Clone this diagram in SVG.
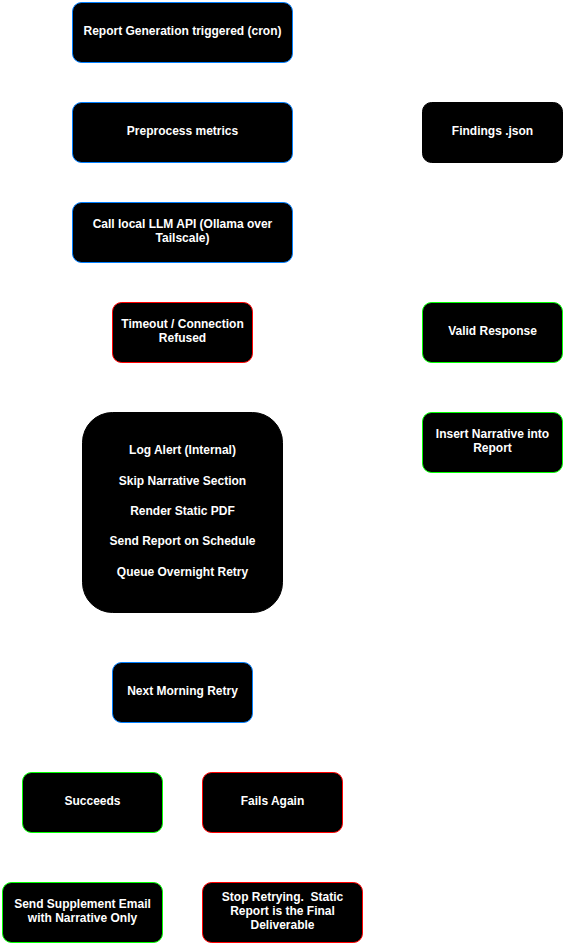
<svg xmlns="http://www.w3.org/2000/svg" width="566" height="952" viewBox="0 0 566 952">
<style>
.n{fill:#000000;stroke-width:1}
.b{stroke:#007FFF}
.r{stroke:#FF0000}
.g{stroke:#00FF00}
.k{stroke:#000000}
.t{fill:#FFFFFF;font-family:"Liberation Sans",Arial,sans-serif;font-size:12px;font-weight:bold;text-anchor:middle}
.c{fill:none;stroke:#FFFFFF;stroke-width:1}
</style>
<rect width="566" height="952" fill="#FFFFFF"/>
<g id="connectors">
<path class="c" d="M182.5 62.5V102.5"/>
<path class="c" d="M182.5 162.5V202.5"/>
<path class="c" d="M292.5 132.5H422.5"/>
<path class="c" d="M182.5 262.5V302.5"/>
<path class="c" d="M292.5 232.5H492.5V302.5"/>
<path class="c" d="M182.5 362.5V412.5"/>
<path class="c" d="M492.5 362.5V412.5"/>
<path class="c" d="M182.5 612.5V662.5"/>
<path class="c" d="M132.5 722.5V772.5"/>
<path class="c" d="M232.5 722.5V772.5"/>
<path class="c" d="M92.5 832.5V882.5"/>
<path class="c" d="M282.5 832.5V882.5"/>
</g>
<g id="report-generation">
<rect class="n b" x="72.5" y="2.5" width="220" height="60" rx="9"/>
<text class="t" x="182.5" y="35">Report Generation triggered (cron)</text>
</g>
<g id="preprocess">
<rect class="n b" x="72.5" y="102.5" width="220" height="60" rx="9"/>
<text class="t" x="182.5" y="135">Preprocess metrics</text>
</g>
<g id="findings">
<rect class="n k" x="422.5" y="102.5" width="140" height="60" rx="9"/>
<text class="t" x="492.5" y="135">Findings .json</text>
</g>
<g id="call-llm">
<rect class="n b" x="72.5" y="202.5" width="220" height="60" rx="9"/>
<text class="t" x="182.5" y="228">Call local LLM API (Ollama over</text>
<text class="t" x="182.5" y="242">Tailscale)</text>
</g>
<g id="timeout">
<rect class="n r" x="112.5" y="302.5" width="140" height="60" rx="9"/>
<text class="t" x="182.5" y="328">Timeout / Connection</text>
<text class="t" x="182.5" y="342">Refused</text>
</g>
<g id="valid-response">
<rect class="n g" x="422.5" y="302.5" width="140" height="60" rx="9"/>
<text class="t" x="492.5" y="335">Valid Response</text>
</g>
<g id="insert-narrative">
<rect class="n g" x="422.5" y="412.5" width="140" height="60" rx="9"/>
<text class="t" x="492.5" y="438">Insert Narrative into</text>
<text class="t" x="492.5" y="452">Report</text>
</g>
<g id="fallback-steps">
<rect class="n k" x="82.5" y="412.5" width="200" height="200" rx="30"/>
<text class="t" x="182.5" y="454">Log Alert (Internal)</text>
<text class="t" x="182.5" y="485">Skip Narrative Section</text>
<text class="t" x="182.5" y="515">Render Static PDF</text>
<text class="t" x="182.5" y="545">Send Report on Schedule</text>
<text class="t" x="182.5" y="576">Queue Overnight Retry</text>
</g>
<g id="next-morning-retry">
<rect class="n b" x="112.5" y="662.5" width="140" height="60" rx="9"/>
<text class="t" x="182.5" y="695">Next Morning Retry</text>
</g>
<g id="succeeds">
<rect class="n g" x="22.5" y="772.5" width="140" height="60" rx="9"/>
<text class="t" x="92.5" y="805">Succeeds</text>
</g>
<g id="fails-again">
<rect class="n r" x="202.5" y="772.5" width="140" height="60" rx="9"/>
<text class="t" x="272.5" y="805">Fails Again</text>
</g>
<g id="send-supplement">
<rect class="n g" x="2.5" y="882.5" width="160" height="60" rx="9"/>
<text class="t" x="82.5" y="908">Send Supplement Email</text>
<text class="t" x="82.5" y="922">with Narrative Only</text>
</g>
<g id="stop-retrying">
<rect class="n r" x="202.5" y="882.5" width="160" height="60" rx="9"/>
<text class="t" x="282.5" y="901">Stop Retrying.&#160; Static</text>
<text class="t" x="282.5" y="915">Report is the Final</text>
<text class="t" x="282.5" y="929">Deliverable</text>
</g>
</svg>
